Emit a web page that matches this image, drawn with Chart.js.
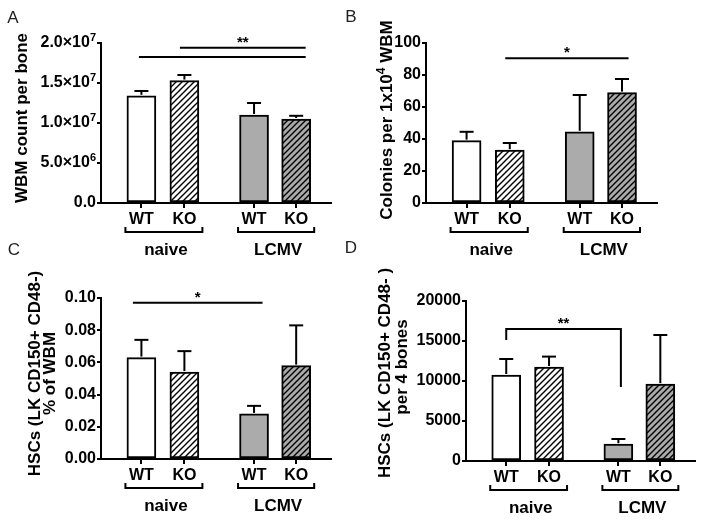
<!DOCTYPE html>
<html lang="en">
<head>
<meta charset="UTF-8">
<title>WBM and HSC counts, naive vs LCMV</title>
<script src="https://cdn.jsdelivr.net/npm/chart.js"></script>
<style>
  body { margin: 0; background: #fff; }
  #wrap { position: relative; width: 704px; height: 521px; }
  #wrap canvas { position: absolute; left: 0; top: 0; }
</style>
</head>
<body>
<div id="wrap">
  <canvas id="chartA" width="704" height="521"></canvas>
  <canvas id="chartB" width="704" height="521"></canvas>
  <canvas id="chartC" width="704" height="521"></canvas>
  <canvas id="chartD" width="704" height="521"></canvas>
</div>
<script>
// categories
const genotypes = ['WT', 'KO', 'WT', 'KO'];
const groups = ['naive', 'LCMV'];

// A: WBM count per bone
const wbmMean = [1.34e7, 1.53e7, 1.10e7, 1.05e7];
const wbmSem = [0.06e7, 0.07e7, 0.15e7, 0.04e7];
const wbmTicks = ['0.0', '5.0×10^6', '1.0×10^7', '1.5×10^7', '2.0×10^7'];

// B: colonies per 1x10^4 WBM
const colMean = [39, 33, 44.5, 69];
const colSem = [5.5, 4.5, 23, 8.5];
const colTicks = ['0', '20', '40', '60', '80', '100'];

// C: HSCs % of WBM
const hscPctMean = [0.063, 0.054, 0.028, 0.058];
const hscPctSem = [0.011, 0.013, 0.005, 0.025];
const hscPctTicks = ['0.00', '0.02', '0.04', '0.06', '0.08', '0.10'];

// D: HSCs per 4 bones
const hscNumMean = [10750, 11750, 2100, 9600];
const hscNumSem = [2000, 1300, 650, 6150];
const hscNumTicks = ['0', '5000', '10000', '15000', '20000'];

// bar slots along the x axis (axis runs 0..5.35)
const xPos = [0.94, 1.94, 3.56, 4.54];

const FONT = '"Liberation Sans", Arial, sans-serif';
const GRAY = '#ababab';
const SUP = { '0': '⁰', '1': '¹', '2': '²', '3': '³', '4': '⁴', '5': '⁵', '6': '⁶', '7': '⁷', '8': '⁸', '9': '⁹' };
const plainSup = s => s.replace(/\^(\d+)/g, (m, d) => d.split('').map(c => SUP[c]).join(''));

function hatch(bg) {
    const c = document.createElement('canvas');
    c.width = 6; c.height = 6;
    const g = c.getContext('2d');
    g.fillStyle = bg;
    g.fillRect(0, 0, 6, 6);
    g.strokeStyle = '#000';
    g.lineWidth = 1.4;
    g.beginPath();
    g.moveTo(0, 6); g.lineTo(6, 0);
    g.moveTo(-3, 3); g.lineTo(3, -3);
    g.moveTo(3, 9); g.lineTo(9, 3);
    g.stroke();
    return g.createPattern(c, 'repeat');
}
const fills = ['#ffffff', hatch('#ffffff'), GRAY, hatch(GRAY)];

function line(ctx, x1, y1, x2, y2) {
    ctx.beginPath();
    ctx.moveTo(x1, y1);
    ctx.lineTo(x2, y2);
    ctx.stroke();
}

// text with ^n superscripts; align 'center' or 'right', baseline middle
function drawRich(ctx, text, x, y, size, align) {
    const parts = text.split(/\^(\d+)/);
    const supSize = Math.round(size * 0.7);
    let w = 0;
    parts.forEach((s, i) => {
        ctx.font = 'bold ' + (i % 2 ? supSize : size) + 'px ' + FONT;
        w += ctx.measureText(s).width;
    });
    let cx = align === 'right' ? x - w : x - w / 2;
    ctx.save();
    ctx.textAlign = 'left';
    ctx.textBaseline = 'middle';
    parts.forEach((s, i) => {
        ctx.font = 'bold ' + (i % 2 ? supSize : size) + 'px ' + FONT;
        ctx.fillText(s, cx, i % 2 ? y - size * 0.33 : y);
        cx += ctx.measureText(s).width;
    });
    ctx.restore();
}

function makePanel(p) {
    const annot = {
        id: 'annot',
        afterDraw(chart) {
            const ctx = chart.ctx;
            const ca = chart.chartArea;
            const x = chart.scales.x, y = chart.scales.y;
            ctx.save();
            ctx.strokeStyle = '#000';
            ctx.fillStyle = '#000';
            ctx.lineWidth = 2;

            // y tick labels with real superscripts
            p.yTicks.forEach((t, i) => {
                drawRich(ctx, t, ca.left - 5, y.getPixelForValue(i * p.yStep), 16, 'right');
            });

            // error bars (upper only)
            p.mean.forEach((m, i) => {
                const px = x.getPixelForValue(xPos[i]);
                const top = y.getPixelForValue(m);
                const e = y.getPixelForValue(m + p.sem[i]);
                line(ctx, px, top - 1, px, e);
                line(ctx, px - 7, e, px + 7, e);
            });

            // significance lines
            ctx.font = 'bold 15px ' + FONT;
            ctx.textAlign = 'center';
            ctx.textBaseline = 'alphabetic';
            p.sig.forEach(s => {
                const xa = x.getPixelForValue(xPos[s.a]) + s.dl;
                const xb = x.getPixelForValue(xPos[s.b]) + s.dr;
                const yy = y.getPixelForValue(s.y);
                ctx.beginPath();
                if (s.legA !== undefined) ctx.moveTo(xa, y.getPixelForValue(s.legA));
                else ctx.moveTo(xa, yy);
                ctx.lineTo(xa, yy);
                ctx.lineTo(xb, yy);
                if (s.legB !== undefined) ctx.lineTo(xb, y.getPixelForValue(s.legB));
                ctx.stroke();
                if (s.label) ctx.fillText(s.label, (xa + xb) / 2, yy - 1);
            });

            // group brackets under the axis
            ctx.font = 'bold 17px ' + FONT;
            ctx.textBaseline = 'middle';
            const by = ca.bottom + 29;
            groups.forEach((g, k) => {
                const xa = x.getPixelForValue(xPos[2 * k]) - 16;
                const xb = x.getPixelForValue(xPos[2 * k + 1]) + 18;
                ctx.beginPath();
                ctx.moveTo(xa, by - 5);
                ctx.lineTo(xa, by);
                ctx.lineTo(xb, by);
                ctx.lineTo(xb, by - 5);
                ctx.stroke();
                ctx.fillText(g, (xa + xb) / 2 + 2, ca.bottom + 47);
            });

            // y title
            p.title.forEach(t => {
                ctx.save();
                ctx.translate(ca.left + t.dx, (ca.top + ca.bottom) / 2 + t.dy);
                ctx.rotate(-Math.PI / 2);
                drawRich(ctx, t.text, 0, 0, 17, 'center');
                ctx.restore();
            });

            // panel letter
            ctx.font = '17px ' + FONT;
            ctx.fillStyle = '#222';
            ctx.textAlign = 'center';
            ctx.fillText(p.letter, p.letterX, p.letterY);
            ctx.restore();
        }
    };

    const axisFont = { family: FONT, size: 16, weight: 'bold' };
    return new Chart(document.getElementById(p.id), {
        type: 'bar',
        data: {
            datasets: [{
                data: p.mean.map((v, i) => ({ x: xPos[i], y: v })),
                backgroundColor: fills,
                borderColor: '#000',
                borderWidth: 2,
                borderSkipped: false,
                barThickness: 29
            }]
        },
        options: {
            responsive: false,
            animation: false,
            devicePixelRatio: 1,
            layout: { padding: { left: 0, top: p.box.top, right: 704 - p.box.right, bottom: 0 } },
            plugins: { legend: { display: false }, tooltip: { enabled: false } },
            scales: {
                x: {
                    type: 'linear',
                    offset: false,
                    min: 0,
                    max: 5.35,
                    afterFit: s => { s.height = 521 - p.box.bottom; },
                    afterBuildTicks: s => { s.ticks = xPos.map(v => ({ value: v })); },
                    ticks: {
                        callback: (v, i) => genotypes[i],
                        color: '#000',
                        font: axisFont,
                        padding: 2,
                        maxRotation: 0,
                        autoSkip: false
                    },
                    grid: { drawOnChartArea: false, offset: false, tickLength: 5, color: '#000', lineWidth: 2 },
                    border: { color: '#000', width: 2 }
                },
                y: {
                    min: 0,
                    max: p.yMax,
                    afterFit: s => { s.width = p.box.left; },
                    afterBuildTicks: s => { s.ticks = p.yTicks.map((t, i) => ({ value: i * p.yStep })); },
                    ticks: {
                        // drawn by the plugin so the exponents can be raised
                        callback: (v, i) => plainSup(p.yTicks[i]),
                        color: 'rgba(0,0,0,0)',
                        font: axisFont,
                        padding: 1
                    },
                    grid: { drawOnChartArea: false, tickLength: 4, color: '#000', lineWidth: 2 },
                    border: { color: '#000', width: 2 }
                }
            }
        },
        plugins: [annot]
    });
}

makePanel({
    id: 'chartA', letter: 'A', letterX: 13, letterY: 18,
    box: { left: 101, top: 43, right: 331, bottom: 203 },
    mean: wbmMean, sem: wbmSem, yMax: 2e7, yStep: 5e6, yTicks: wbmTicks,
    title: [{ text: 'WBM count per bone', dx: -79, dy: -5 }],
    sig: [
        { a: 0, b: 3, y: 1.825e7, dl: -2.5, dr: 9.5 },
        { a: 1, b: 3, y: 1.94e7, dl: -4.5, dr: 9.5, label: '**' }
    ]
});

makePanel({
    id: 'chartB', letter: 'B', letterX: 351, letterY: 17,
    box: { left: 426, top: 43, right: 657, bottom: 203 },
    mean: colMean, sem: colSem, yMax: 100, yStep: 20, yTicks: colTicks,
    title: [{ text: 'Colonies per 1x10^4 WBM', dx: -39, dy: -3 }],
    sig: [{ a: 1, b: 3, y: 90.5, dl: -4.5, dr: 6.5, label: '*' }]
});

makePanel({
    id: 'chartC', letter: 'C', letterX: 14, letterY: 250,
    box: { left: 101, top: 298, right: 331, bottom: 459 },
    mean: hscPctMean, sem: hscPctSem, yMax: 0.1, yStep: 0.02, yTicks: hscPctTicks,
    title: [
        { text: 'HSCs (LK CD150+ CD48-)', dx: -66, dy: -5 },
        { text: '% of WBM', dx: -51, dy: -5 }
    ],
    sig: [{ a: 0, b: 2, y: 0.097, dl: -8.5, dr: 8.5, label: '*' }]
});

makePanel({
    id: 'chartD', letter: 'D', letterX: 351, letterY: 248,
    box: { left: 466, top: 301, right: 695, bottom: 461 },
    mean: hscNumMean, sem: hscNumSem, yMax: 20000, yStep: 5000, yTicks: hscNumTicks,
    title: [
        { text: 'HSCs (LK CD150+ CD48- )', dx: -81, dy: -8 },
        { text: 'per 4 bones', dx: -64, dy: -14 }
    ],
    sig: [{ a: 0, b: 2, y: 16500, legA: 15125, legB: 9250, dl: 0, dr: 2.5, label: '**' }]
});
</script>
</body>
</html>
